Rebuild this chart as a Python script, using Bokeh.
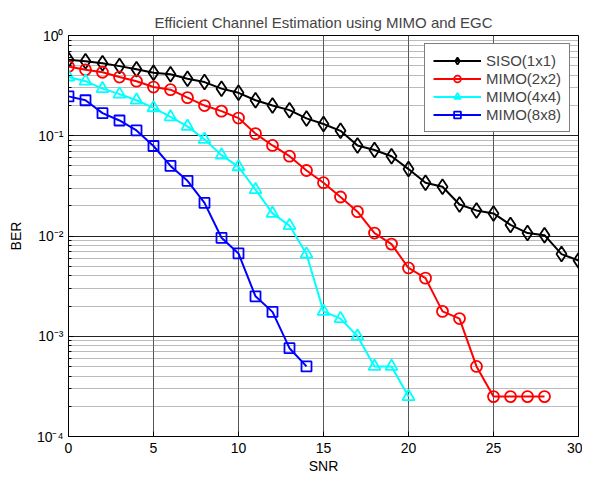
from bokeh.plotting import figure
from bokeh.models import (Legend, LegendItem, CustomJSTickFormatter, FixedTicker, LogTicker)
from bokeh.embed import file_html
from bokeh.resources import INLINE

title_text = "Efficient Channel Estimation using MIMO and EGC"

snr = list(range(0, 31))
siso = [0.573, 0.555, 0.53, 0.495, 0.46, 0.425, 0.41, 0.37, 0.343, 0.295, 0.268,
        0.226, 0.20, 0.18, 0.149, 0.131, 0.112, 0.080, 0.072, 0.0625, 0.0465,
        0.034, 0.031, 0.0206, 0.018, 0.0168, 0.0129, 0.0107, 0.0102, 0.0066, 0.0057]
snr_2 = list(range(0, 29))
mimo2 = [0.49, 0.455, 0.43, 0.385, 0.35, 0.306, 0.288, 0.24, 0.20, 0.176, 0.15,
         0.105, 0.080, 0.0625, 0.045, 0.034, 0.0245, 0.0175, 0.0107, 0.0083,
         0.0048, 0.0038, 0.00177, 0.0015, 0.00050, 0.00025, 0.00025, 0.00025, 0.00025]
snr_4 = list(range(0, 21))
mimo4 = [0.385, 0.35, 0.295, 0.26, 0.226, 0.19, 0.154, 0.124, 0.092, 0.064, 0.049,
         0.029, 0.0168, 0.0127, 0.0066, 0.00177, 0.0015, 0.00100, 0.0005, 0.0005, 0.00025]
snr_8 = list(range(0, 15))
mimo8 = [0.247, 0.226, 0.168, 0.142, 0.113, 0.079, 0.050, 0.0355, 0.0214, 0.0096,
         0.0067, 0.0025, 0.00175, 0.00076, 0.00050]

series = [
    ("SISO(1x1)", snr, siso, "black", "diamond", 15),
    ("MIMO(2x2)", snr_2, mimo2, "red", "circle", 11),
    ("MIMO(4x4)", snr_4, mimo4, "cyan", "triangle", 12),
    ("MIMO(8x8)", snr_8, mimo8, "blue", "square", 10),
]

FONT = "Liberation Sans"

p = figure(width=582, height=476, y_axis_type="log", x_range=(0, 30), y_range=(1e-4, 1),
           output_backend="svg", toolbar_location=None, title=title_text,
           min_border_left=68, min_border_right=4, min_border_top=35, min_border_bottom=39)
p.background_fill_color = "white"
p.border_fill_color = "white"
p.outline_line_color = "black"
p.outline_line_width = 1

p.title.align = "center"
p.title.text_font = FONT
p.title.text_font_size = "15px"
p.title.text_font_style = "normal"
p.title.offset = 0
p.title.standoff = 10

sup_code = """
const e = Math.round(Math.log10(tick));
const sup = {'-':'\u207b','0':'\u2070','1':'\u00b9','2':'\u00b2','3':'\u00b3','4':'\u2074'};
return '10' + String(e).split('').map(c => sup[c]).join('');
"""

xt = FixedTicker(ticks=[0, 5, 10, 15, 20, 25, 30])
yt = LogTicker(num_minor_ticks=10)

for ax in p.xaxis:
    ax.ticker = xt
for ax in p.yaxis:
    ax.ticker = yt
    ax.formatter = CustomJSTickFormatter(code=sup_code)

for ax in list(p.xaxis) + list(p.yaxis):
    ax.major_tick_in = 5
    ax.major_tick_out = 0
    ax.minor_tick_in = 3
    ax.minor_tick_out = 0
    ax.axis_line_color = "black"
    ax.major_label_text_font = FONT
    ax.major_label_text_font_size = "14px"
    ax.major_label_text_color = "black"
    ax.axis_label_text_font = FONT
    ax.axis_label_text_font_size = "14px"
    ax.axis_label_text_font_style = "normal"
    ax.axis_label_text_color = "black"
p.xaxis.minor_tick_line_color = None
p.xaxis.axis_label = "SNR"
p.yaxis.axis_label = "BER"
p.xaxis.major_label_standoff = 6
p.xaxis.axis_label_standoff = 2
p.yaxis.major_label_standoff = 5
p.yaxis.axis_label_standoff = 10

# grid
p.xgrid.ticker = xt
p.xgrid.grid_line_color = "#555555"
p.xgrid.grid_line_width = 1
p.ygrid.grid_line_color = "#222222"
p.ygrid.grid_line_width = 1
p.ygrid.minor_grid_line_color = "#777777"
p.ygrid.minor_grid_line_dash = "1 1"
p.ygrid.minor_grid_line_width = 1

items = []
for name, xs, ys, color, marker, size in series:
    r1 = p.line(xs, ys, line_color=color, line_width=2)
    r2 = p.scatter(xs, ys, marker=marker, size=size, line_color=color, line_width=1.8,
                   fill_color=None)
    items.append(LegendItem(label=name, renderers=[r1, r2]))

legend = Legend(items=items, location="top_right")
legend.border_line_color = "black"
legend.border_line_width = 1
legend.background_fill_color = "white"
legend.background_fill_alpha = 1
legend.label_text_font = FONT
legend.label_text_font_size = "15px"
legend.glyph_width = 48
legend.glyph_height = 17
legend.spacing = 1
legend.padding = 8
legend.margin = 8
legend.label_standoff = 5
p.add_layout(legend)

open("out.html", "w").write(file_html(p, INLINE))
